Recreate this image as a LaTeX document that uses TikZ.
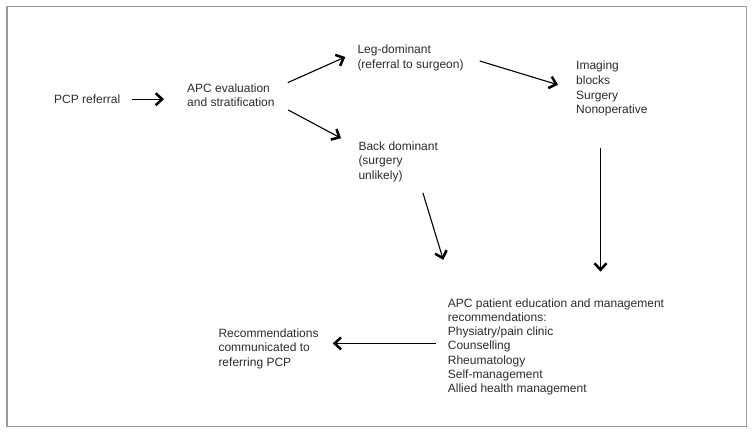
\documentclass[tikz,border=0pt]{standalone}
\usepackage{fontspec}
\setmainfont{Liberation Sans}
\usetikzlibrary{arrows.meta}
\definecolor{colorText}{HTML}{2b2b2b}
\definecolor{colorFrame}{HTML}{9a9a9a}
\tikzset{
  every label node/.style={
    inner sep=0pt,anchor=base west,align=left,text=colorText,
    font=\fontsize{12}{14.2}\selectfont,
  },
  flow/.style={
    line width=1.1pt,-{Straight Barb[length=6.5pt,width=12pt,line width=2.5pt]},
  },
}

\begin{document}
\begin{tikzpicture}[x=1pt,y=-1pt]
   \useasboundingbox (0,0) rectangle (753,433);
   \draw[colorFrame,line width=1.8pt] (7,6.5) rectangle (746.5,426.5);

   % NODES (placed at the baseline of their last line)
   \node[every label node] (pcp) at (54.0, 103.5) {PCP referral};
   \node[every label node] (apc) at (187.0, 106.7) {APC evaluation\\and stratification};
   \node[every label node] (leg) at (357.3, 68.2) {Leg-dominant\\(referral to surgeon)};
   \node[every label node] (img) at (576.0, 113.4) {Imaging\\blocks\\[0.8pt]Surgery\\Nonoperative};
   \node[every label node] (back) at (358.3, 179.1) {Back dominant\\(surgery\\unlikely)};
   \node[every label node] (edu) at (447.7, 392.5) {APC patient education and management\\recommendations:\\Physiatry/pain clinic\\Counselling\\Rheumatology\\Self-management\\Allied health management};
   \node[every label node] (rec) at (218.3, 366.1) {Recommendations\\communicated to\\referring PCP};

   % DRAW ARROWS (shifts in picture units, y pointing down)
   \path[draw,flow] ([xshift=12pt]pcp.east) -- ([xshift=-23pt]apc.west |- pcp.east);
   \path[draw,flow] ([shift={(13,-1)}]apc.north east) -- ([shift={(-12,-1)}]leg.west);
   \path[draw,flow] ([shift={(13.5,3)}]apc.south east) -- ([shift={(-17.3,-3.6)}]back.north west);
   \path[draw,flow] ([shift={(16,3)}]leg.east) -- ([shift={(-18,-3.8)}]img.west);
   \path[draw,flow] ([shift={(24.7,11.1)}]back.south) -- ([shift={(-4.4,-38.5)}]edu.north west);
   \path[draw,flow] ([shift={(24.5,32)}]img.south west) -- ([shift={(24.5,-26.8)}]img.south west |- edu.north);
   \path[draw,flow] ([shift={(-11.7,-3.4)}]edu.west) -- ([shift={(14,-3.4)}]rec.east |- edu.west);

\end{tikzpicture}
\end{document}
